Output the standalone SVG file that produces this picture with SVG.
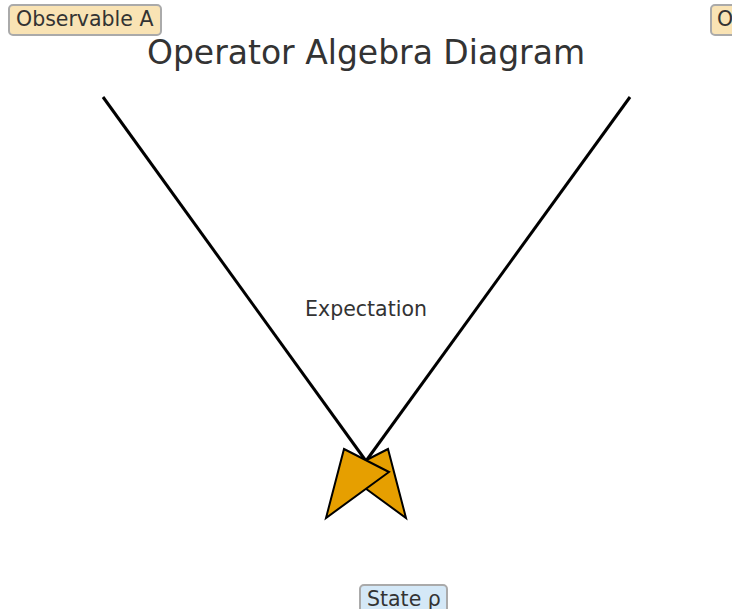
<svg xmlns="http://www.w3.org/2000/svg" width="732" height="609" viewBox="0 0 732 609">
<style>
text{font-family:"DejaVu Sans","Liberation Sans",sans-serif;fill:#333}
.lbl{font-size:20.5px}
.box{stroke:#aaa;stroke-width:2}
.obs{fill:#f9e3b4}
.st{fill:#d4e8f7}
.edge{stroke:#000;stroke-width:3;fill:none}
.head{fill:#e69f00;stroke:#000;stroke-width:2;stroke-linejoin:miter}
</style>
<rect width="732" height="609" fill="#fff"/>
<text x="366" y="64" font-size="33" text-anchor="middle">Operator Algebra Diagram</text>
<g id="connectors">
<line class="edge" x1="103" y1="97" x2="366" y2="461"/>
<line class="edge" x1="630" y1="97" x2="366" y2="461"/>
<polygon class="head" points="388,449 343,472 406,518"/>
<polygon class="head" points="344,449 389,472 326,518"/>
<text class="lbl" x="366" y="316" text-anchor="middle">Expectation</text>
</g>
<g id="observableA">
<rect class="box obs" x="9" y="5" width="152" height="30" rx="4"/>
<text class="lbl" x="16" y="26">Observable A</text>
</g>
<g id="observableB">
<rect class="box obs" x="711" y="5" width="152" height="30" rx="4"/>
<text class="lbl" x="717" y="26">Observable B</text>
</g>
<g id="stateRho">
<rect class="box st" x="360" y="585" width="87" height="30" rx="4"/>
<text class="lbl" x="367" y="606">State ρ</text>
</g>
</svg>
